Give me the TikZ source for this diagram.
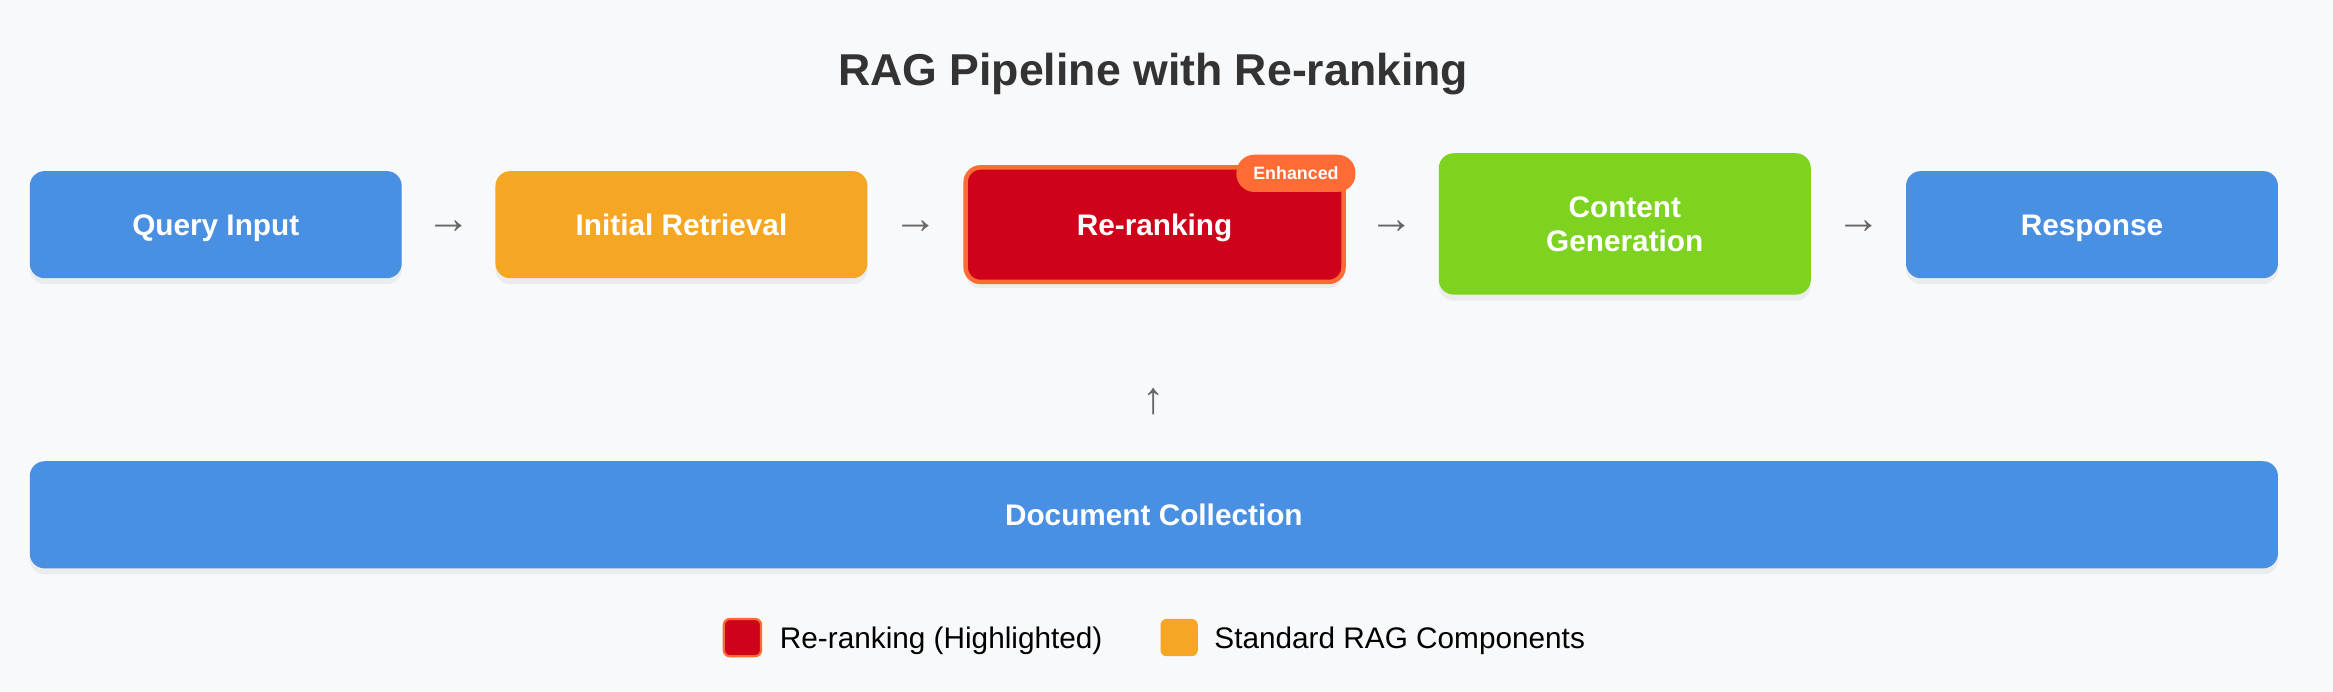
\documentclass[tikz,border=0pt]{standalone}
\usepackage{fontspec}
\setmainfont{Liberation Sans}
\usetikzlibrary{calc,shadows}

\definecolor{pagebg}{HTML}{F8F9FA}
\definecolor{stdblue}{HTML}{4A90E2}
\definecolor{stdorange}{HTML}{F5A623}
\definecolor{rerankred}{HTML}{D0021B}
\definecolor{gengreen}{HTML}{7ED321}
\definecolor{enhorange}{HTML}{FF6B35}
\definecolor{titlegray}{HTML}{333333}
\definecolor{arrowgray}{HTML}{666666}

\tikzset{
  stage/.style={rounded corners=10pt,minimum width=250pt,minimum height=72pt,
    text=white,align=center,font=\fontsize{20}{23}\selectfont\bfseries,
    drop shadow={shadow xshift=0pt,shadow yshift=-4pt,opacity=0.10}},
  oneline/.style={text height=14.3pt,text depth=0pt},
  flowarrow/.style={text=arrowgray,font=\fontsize{30}{30}\selectfont,inner sep=0pt},
  legendbox/.style={rounded corners=4pt,minimum width=25pt,minimum height=25pt,inner sep=0pt},
  legendtext/.style={anchor=west,inner sep=0pt,text height=14.3pt,text depth=0pt,
    font=\fontsize{20}{22}\selectfont,text=black}
}

\begin{document}
\begin{tikzpicture}[x=1pt,y=-1pt]
  % page
  \fill[pagebg] (0,0) rectangle (1568,465);
  \node[font=\fontsize{30}{34}\selectfont\bfseries,text=titlegray,text height=21.5pt,text depth=0pt,inner sep=0pt]
    (title) at (775,47) {RAG Pipeline with Re-ranking};
  % pipeline row
  \node[stage,oneline,fill=stdblue] (query) at (145,151) {Query Input};
  \node[stage,oneline,fill=stdorange] (retrieve) at (458,151) {Initial Retrieval};
  \node[stage,oneline,fill=rerankred,draw=enhorange,line width=3pt,minimum width=254pt,minimum height=77pt] (rerank) at (776,151) {Re-ranking};
  \node[stage,fill=gengreen,minimum height=95pt] (generate) at (1092,150.5) {Content\\Generation};
  \node[stage,oneline,fill=stdblue] (response) at (1406,151) {Response};
  \node[fill=enhorange,rounded corners=12pt,minimum width=80pt,minimum height=25pt,inner sep=0pt,
    text height=8.6pt,text depth=0pt,text=white,font=\fontsize{12}{14}\selectfont\bfseries] (badge) at (871,116.5) {Enhanced};
  % arrows between stages
  \node[flowarrow,yshift=-2pt] (arrA) at ($(query.east)!0.5!(retrieve.west)$) {→};
  \node[flowarrow,yshift=-2pt] (arrB) at ($(retrieve.east)!0.5!(rerank.west)$) {→};
  \node[flowarrow,yshift=-2pt] (arrC) at ($(rerank.east)!0.5!(generate.west)$) {→};
  \node[flowarrow,yshift=-2pt] (arrD) at ($(generate.east)!0.5!(response.west)$) {→};
  % documents
  \node[stage,oneline,fill=stdblue,minimum width=1511pt] (docs) at (775.5,346) {Document Collection};
  \node[flowarrow] (arrUp) at (775.5,270) {↑};
  % legend
  \node[legendbox,fill=rerankred,draw=enhorange,line width=1.5pt] (keyred) at (499,428.5) {};
  \node[legendtext] (keyredtext) at (524,428.5) {Re-ranking (Highlighted)};
  \node[legendbox,fill=stdorange] (keyorange) at (792.5,428.5) {};
  \node[legendtext] (keyorangetext) at (816,428.5) {Standard RAG Components};
\end{tikzpicture}
\end{document}
